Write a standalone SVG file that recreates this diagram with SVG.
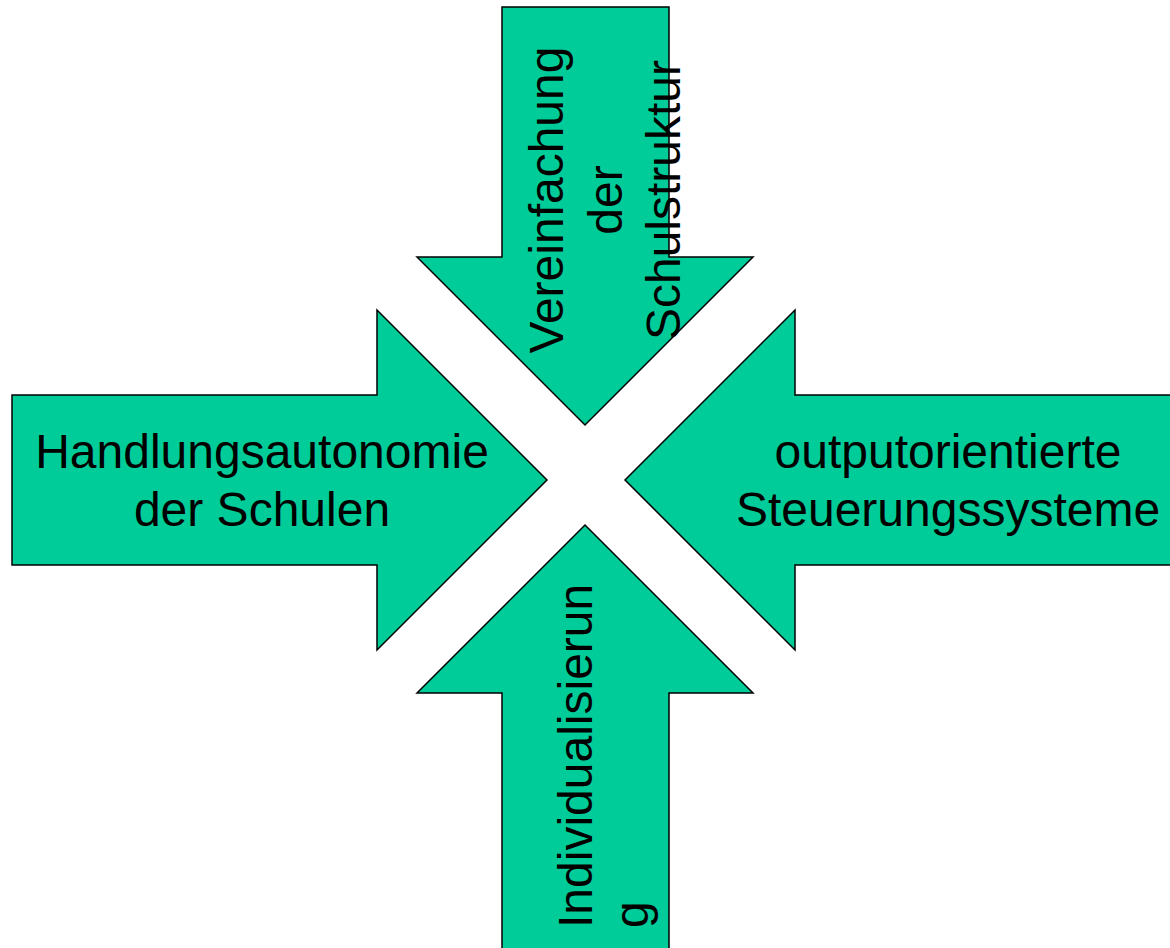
<svg xmlns="http://www.w3.org/2000/svg" width="1170" height="948" viewBox="0 0 1170 948">
<style>
.arrow{fill:#00CC99;stroke:#000;stroke-width:1.5;stroke-linejoin:miter}
.lbl{font-family:"Liberation Sans",Arial,sans-serif;font-size:48px;fill:#000}
</style>
<rect width="1170" height="948" fill="#fff"/>
<g id="top-arrow">
<polygon class="arrow" points="502,7 669,7 669,257 753,257 585,425 417,257 502,257"/>
<text class="lbl" text-anchor="middle" transform="translate(563,200) rotate(-90)"><tspan x="0" y="0">Vereinfachung</tspan><tspan x="0" y="58.5">der</tspan><tspan x="0" y="117">Schulstruktur</tspan></text>
</g>
<g id="left-arrow">
<polygon class="arrow" points="12,395 377,395 377,310 547,480 377,650 377,565 12,565"/>
<text class="lbl" text-anchor="middle"><tspan x="262" y="468">Handlungsautonomie</tspan><tspan x="262" y="526">der Schulen</tspan></text>
</g>
<g id="right-arrow">
<polygon class="arrow" points="1180,395 795,395 795,310 625,480 795,650 795,565 1180,565"/>
<text class="lbl" text-anchor="middle"><tspan x="948" y="468">outputorientierte</tspan><tspan x="948" y="526">Steuerungssysteme</tspan></text>
</g>
<g id="bottom-arrow">
<polygon class="arrow" points="502,960 502,693 417,693 585,525 753,693 669,693 669,960"/>
<text class="lbl" text-anchor="start" transform="translate(592,928) rotate(-90)"><tspan x="0" y="0">Individualisierun</tspan><tspan x="0" y="56">g</tspan></text>
</g>
<g id="connectors"/>
</svg>
